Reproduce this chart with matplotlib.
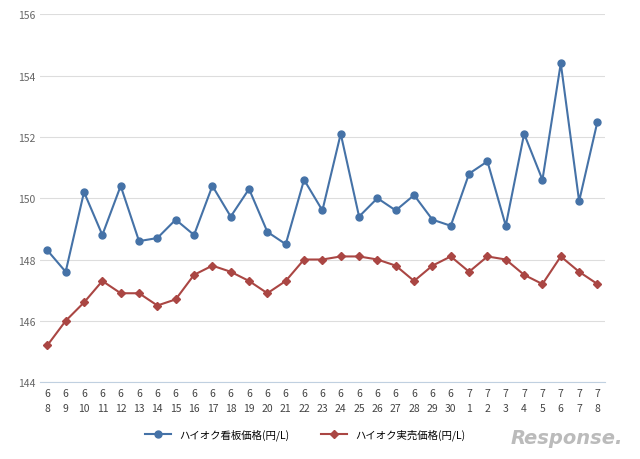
import matplotlib.pyplot as plt

months = [6] * 23 + [7] * 8
days = list(range(8, 31)) + list(range(1, 9))
posted = [148.3, 147.6, 150.2, 148.8, 150.4, 148.6, 148.7, 149.3, 148.8, 150.4,
          149.4, 150.3, 148.9, 148.5, 150.6, 149.6, 152.1, 149.4, 150.0, 149.6,
          150.1, 149.3, 149.1, 150.8, 151.2, 149.1, 152.1, 150.6, 154.4, 149.9, 152.5]
actual = [145.2, 146.0, 146.6, 147.3, 146.9, 146.9, 146.5, 146.7, 147.5, 147.8,
          147.6, 147.3, 146.9, 147.3, 148.0, 148.0, 148.1, 148.1, 148.0, 147.8,
          147.3, 147.8, 148.1, 147.6, 148.1, 148.0, 147.5, 147.2, 148.1, 147.6, 147.2]
labels = [f"{m}\n{d}" for m, d in zip(months, days)]

plt.rcParams['font.family'] = 'Noto Sans CJK JP'
fig = plt.figure(figsize=(6.4, 4.6), dpi=100)
ax = fig.add_axes([0.0625, 0.167, 0.8825, 0.8])
x = range(len(labels))
ax.plot(x, posted, color='#4572A7', lw=1.5, marker='o', ms=5, label='ハイオク看板価格(円/L)')
ax.plot(x, actual, color='#AA4643', lw=1.5, marker='D', ms=4, label='ハイオク実売価格(円/L)')

ax.set_ylim(144, 156)
ax.set_yticks(range(144, 157, 2))
ax.set_xlim(-0.4, len(labels) - 0.6)
ax.set_xticks(list(x))
ax.set_xticklabels(labels, fontsize=7.5, color='#444444', linespacing=1.6)
ax.tick_params(axis='y', labelsize=7.5, colors='#666666', length=0)
ax.tick_params(axis='x', length=0, pad=4)
ax.grid(axis='y', color='#dddddd', lw=0.8)
ax.set_axisbelow(True)
for s in ['top', 'right', 'left']:
    ax.spines[s].set_visible(False)
ax.spines['bottom'].set_color('#c0d0e0')

ax.legend(loc='upper center', bbox_to_anchor=(0.47, -0.1), ncol=2, frameon=False,
          fontsize=7.5, handlelength=2.5, columnspacing=3)
fig.text(0.885, 0.035, 'Response.', fontsize=14, color='#bbbbbb', style='italic',
         ha='center', fontfamily='DejaVu Sans', fontweight='bold')
fig.savefig('out.png', dpi=100, facecolor='white')
